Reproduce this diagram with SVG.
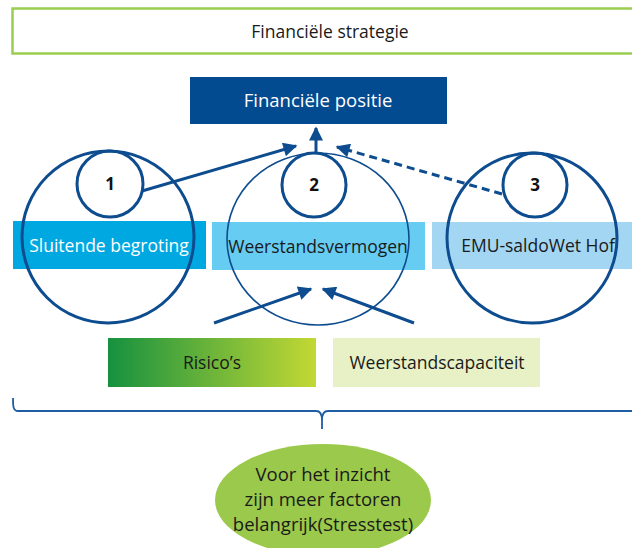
<svg xmlns="http://www.w3.org/2000/svg" width="632" height="548" viewBox="0 0 632 548">
  <defs>
    <linearGradient id="riskGrad" x1="0" y1="0" x2="1" y2="0">
      <stop offset="0" stop-color="#16913F"/>
      <stop offset="1" stop-color="#C3D834"/>
    </linearGradient>
    <marker id="arrowBig" viewBox="0 0 10 10" refX="9" refY="5" markerWidth="16" markerHeight="14" markerUnits="userSpaceOnUse" orient="auto">
      <path d="M0,0 L10,5 L0,10 z" fill="#0D4C8F"/>
    </marker>
  </defs>
  <style>
    text { font-family: "Open Sans", "Noto Sans", "Liberation Sans", sans-serif; text-anchor: middle; }
    .lbl { font-size: 17.5px; fill: #1a1a1a; }
    .lblW { font-size: 17.5px; fill: #ffffff; }
    .big { font-size: 18.5px; }
    .num { font-size: 17px; font-weight: bold; fill: #111111; }
    .ring { fill: none; stroke: #0D4C8F; stroke-width: 3; }
    .ringThin { fill: none; stroke: #0D4C8F; stroke-width: 1.6; }
    .conn { fill: none; stroke: #0D4C8F; stroke-width: 3; }
  </style>

  <rect width="632" height="548" fill="#ffffff"/>

  <!-- top banner -->
  <g id="strategie">
    <rect x="12.5" y="8.5" width="640" height="45" fill="#ffffff" stroke="#9ACD50" stroke-width="2.5"/>
    <text class="lbl" x="330" y="38">Financiële strategie</text>
  </g>

  <g id="positie">
    <rect x="190" y="77" width="257" height="47" fill="#034B90"/>
    <text class="lblW big" x="318" y="107">Financiële positie</text>
  </g>

  <!-- coloured bars -->
  <g id="sluitend">
    <rect x="13" y="221" width="193" height="48" fill="#00A8E1"/>
    <text class="lblW" x="109" y="252">Sluitende begroting</text>
  </g>
  <g id="weerstandsvermogen">
    <rect x="212" y="222" width="213" height="48" fill="#66CCF2"/>
    <text class="lbl" x="318" y="253">Weerstandsvermogen</text>
  </g>
  <g id="emu">
    <rect x="432" y="222" width="210" height="47" fill="#A3D6F2"/>
    <text class="lbl" x="538" y="252">EMU-saldoWet Hof</text>
  </g>

  <!-- rings -->
  <g id="ring1">
    <circle class="ring" cx="108" cy="237" r="86"/>
    <circle class="ring" cx="110" cy="184" r="33"/>
    <text class="num" x="110" y="190">1</text>
  </g>
  <g id="ring2">
    <ellipse class="ringThin" cx="318" cy="239" rx="91" ry="86"/>
    <circle class="ring" cx="314" cy="185" r="32"/>
    <text class="num" x="314" y="191">2</text>
  </g>
  <g id="ring3">
    <circle class="ring" cx="532" cy="238" r="85"/>
    <circle class="ring" cx="535" cy="185" r="32"/>
    <text class="num" x="535" y="191">3</text>
  </g>

  <!-- bottom bars -->
  <g id="risicos">
    <rect x="108" y="338" width="208" height="49" fill="url(#riskGrad)"/>
    <text class="lbl" x="212" y="369">Risico’s</text>
  </g>
  <g id="capaciteit">
    <rect x="333" y="338" width="207" height="49" fill="#E8F1C6"/>
    <text class="lbl" x="437" y="369">Weerstandscapaciteit</text>
  </g>

  <!-- summary ellipse -->
  <g id="stresstest">
    <ellipse cx="323" cy="500" rx="108" ry="56" fill="#9BC94B"/>
    <text class="lbl big" x="323" y="481">Voor het inzicht</text>
    <text class="lbl big" x="323" y="506">zijn meer factoren</text>
    <text class="lbl big" x="323" y="531">belangrijk(Stresstest)</text>
  </g>

  <!-- connectors -->
  <g id="connectors">
    <line class="conn" x1="142" y1="191" x2="296" y2="146" marker-end="url(#arrowBig)"/>
    <line class="conn" x1="316" y1="153" x2="316" y2="128" marker-end="url(#arrowBig)"/>
    <line class="conn" x1="502" y1="194" x2="337" y2="147" stroke-dasharray="8,5" marker-end="url(#arrowBig)"/>
    <line class="conn" x1="214" y1="323" x2="311" y2="289" marker-end="url(#arrowBig)"/>
    <line class="conn" x1="414" y1="323" x2="323" y2="289" marker-end="url(#arrowBig)"/>
    <!-- brace -->
    <path d="M13,398 C13,406 13,411 18,411 L316,411 C320,411 322,414 322,420 L322,429 M322,420 C322,414 324,411 328,411 L640,411" fill="none" stroke="#1E5DA3" stroke-width="1.8"/>
  </g>
</svg>
